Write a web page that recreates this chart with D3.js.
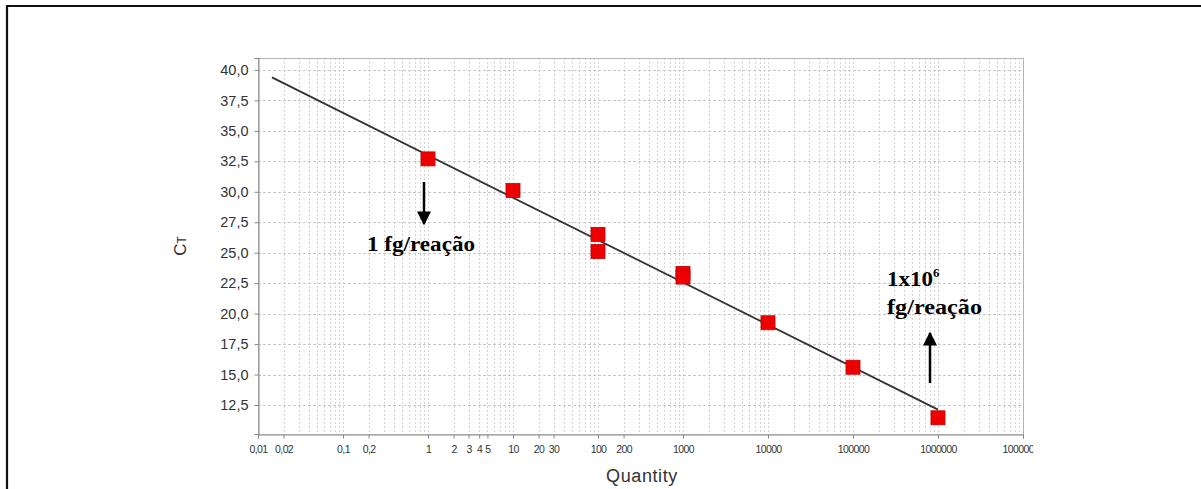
<!DOCTYPE html>
<html>
<head>
<meta charset="utf-8">
<script src="https://cdn.jsdelivr.net/npm/d3@7"></script>
<style>
  body { margin: 0; background: #fff; }
  svg { display: block; }
</style>
</head>
<body>
<script>
// data
var quantity = [1, 10, 100, 100, 1000, 1000, 10000, 100000, 1000000];
var ct = [32.7, 30.1, 26.5, 25.1, 23.3, 23.0, 19.25, 15.6, 11.45];

// standard curve fit (ct = intercept + slope*log10(q)) and the range it is drawn over
var fitSlope = -3.48;
var fitIntercept = 33.0;
var fitRange = [0.0146, 1000000];

var xTicks = [0.01, 0.02, 0.1, 0.2, 1, 2, 3, 4, 5, 10, 20, 30, 100, 200, 1000, 10000, 100000, 1000000, 10000000];
var yTicks = [12.5, 15, 17.5, 20, 22.5, 25, 27.5, 30, 32.5, 35, 37.5, 40];

var W = 1201, H = 489;
// plot box edges (don't use "top" - it's window.top)
var pLeft = 258, pRight = 1023, pTop = 58, pBottom = 434;

var svg = d3.select("body").append("svg")
    .attr("width", W)
    .attr("height", H);

// outer frame (right and bottom run off the picture)
svg.append("path")
    .attr("d", "M7,500 L7,6 L1210,6")
    .attr("fill", "none")
    .attr("stroke", "#111")
    .attr("stroke-width", 2.2);

var x = d3.scaleLog().domain([0.01, 10000000]).range([pLeft, pRight]);
var y = d3.scaleLinear().domain([10.12, 40.98]).range([pBottom, pTop]);

// minor grid values, 1..9 per decade
var gridX = [];
for (var e = -2; e < 7; e++) {
    for (var m = 1; m < 10; m++) gridX.push(m * Math.pow(10, e));
}

svg.append("g").selectAll("line")
    .data(gridX.filter(function(d) { return d > 0.01; }))
    .enter().append("line")
    .attr("x1", function(d) { return Math.round(x(d)) + 0.5; })
    .attr("x2", function(d) { return Math.round(x(d)) + 0.5; })
    .attr("y1", pTop)
    .attr("y2", pBottom)
    .attr("stroke", "#d4d4d4")
    .attr("stroke-dasharray", "2,2");

svg.append("g").selectAll("line")
    .data(yTicks)
    .enter().append("line")
    .attr("x1", pLeft)
    .attr("x2", pRight)
    .attr("y1", function(d) { return Math.round(y(d)) + 0.5; })
    .attr("y2", function(d) { return Math.round(y(d)) + 0.5; })
    .attr("stroke", "#c8c8c8")
    .attr("stroke-dasharray", "3,2");

// plot box
svg.append("rect")
    .attr("x", pLeft + 0.5)
    .attr("y", pTop + 0.5)
    .attr("width", pRight - pLeft)
    .attr("height", pBottom - pTop)
    .attr("fill", "none")
    .attr("stroke", "#b5b5b5");

// clip for the last x label, which is cut in the original
svg.append("clipPath").attr("id", "cut")
    .append("rect").attr("x", 0).attr("y", 0).attr("width", 1033).attr("height", H);

var xAxis = svg.append("g")
    .attr("transform", "translate(0," + (pBottom + 0.5) + ")")
    .attr("clip-path", "url(#cut)")
    .call(d3.axisBottom(x)
        .tickValues(xTicks)
        .tickSize(4)
        .tickFormat(function(d) { return String(d).replace(".", ","); }));
xAxis.select(".domain").attr("stroke", "#888");
xAxis.selectAll(".tick line").attr("stroke", "#888");
xAxis.selectAll(".tick text")
    .attr("fill", "#333")
    .attr("dy", "1.1em")
    .style("font-family", "Arial, 'Liberation Sans', sans-serif")
    .style("font-size", "10.5px")
    .style("letter-spacing", "-0.6px");

var yAxis = svg.append("g")
    .attr("transform", "translate(" + (pLeft + 0.5) + ",0)")
    .call(d3.axisLeft(y)
        .tickValues(yTicks)
        .tickSize(4)
        .tickPadding(6)
        .tickFormat(function(d) { return d3.format(".1f")(d).replace(".", ","); }));
yAxis.select(".domain").attr("stroke", "#888");
yAxis.selectAll(".tick line").attr("stroke", "#888");
yAxis.selectAll(".tick text")
    .attr("fill", "#333")
    .style("font-family", "Arial, 'Liberation Sans', sans-serif")
    .style("font-size", "14.5px");

// axis titles
svg.append("text")
    .attr("x", 642)
    .attr("y", 482)
    .attr("text-anchor", "middle")
    .attr("fill", "#333")
    .style("font-family", "Arial, 'Liberation Sans', sans-serif")
    .style("font-size", "18px")
    .style("letter-spacing", "0.6px")
    .text("Quantity");

var yt = svg.append("text")
    .attr("transform", "translate(186,246) rotate(-90)")
    .attr("text-anchor", "middle")
    .attr("fill", "#333")
    .style("font-family", "Arial, 'Liberation Sans', sans-serif")
    .style("font-size", "17px");
yt.append("tspan").text("C");
yt.append("tspan").style("font-size", "12px").text("T");

// fitted line
var line = d3.line()
    .x(function(d) { return x(d); })
    .y(function(d) { return y(fitIntercept + fitSlope * Math.log10(d)); });

svg.append("path")
    .attr("d", line(fitRange))
    .attr("fill", "none")
    .attr("stroke", "#333")
    .attr("stroke-width", 1.8);

// points
var pts = quantity.map(function(q, i) { return { q: q, c: ct[i] }; });
svg.append("g").selectAll("rect")
    .data(pts)
    .enter().append("rect")
    .attr("x", function(d) { return x(d.q) - 7; })
    .attr("y", function(d) { return y(d.c) - 7; })
    .attr("width", 14)
    .attr("height", 14)
    .attr("fill", "#ee0000")
    .attr("stroke", "#c40000")
    .attr("stroke-width", 0.8);

// annotations
svg.append("defs").append("marker")
    .attr("id", "head")
    .attr("viewBox", "0 0 10 10")
    .attr("refX", 9).attr("refY", 5)
    .attr("markerWidth", 5.6).attr("markerHeight", 5.6)
    .attr("markerUnits", "strokeWidth")
    .attr("orient", "auto")
    .append("path").attr("d", "M0,0 L10,5 L0,10 z").attr("fill", "#000");

svg.append("line")
    .attr("x1", 424).attr("y1", 182)
    .attr("x2", 424).attr("y2", 224)
    .attr("stroke", "#000").attr("stroke-width", 2.5)
    .attr("marker-end", "url(#head)");

svg.append("line")
    .attr("x1", 930).attr("y1", 383)
    .attr("x2", 930).attr("y2", 333)
    .attr("stroke", "#000").attr("stroke-width", 2.5)
    .attr("marker-end", "url(#head)");

var serif = "'Liberation Serif', 'Times New Roman', serif";

svg.append("text")
    .attr("x", 367).attr("y", 251)
    .attr("textLength", 108)
    .attr("lengthAdjust", "spacingAndGlyphs")
    .style("font-family", serif)
    .style("font-weight", "bold")
    .style("font-size", "22px")
    .text("1 fg/reação");

var t2 = svg.append("text")
    .attr("x", 887).attr("y", 286)
    .style("font-family", serif)
    .style("font-weight", "bold")
    .style("font-size", "22px");
t2.append("tspan").attr("textLength", 46).attr("lengthAdjust", "spacingAndGlyphs").text("1x10");
t2.append("tspan").attr("dy", -9).style("font-size", "13px").text("6");

svg.append("text")
    .attr("x", 887).attr("y", 314)
    .attr("textLength", 95)
    .attr("lengthAdjust", "spacingAndGlyphs")
    .style("font-family", serif)
    .style("font-weight", "bold")
    .style("font-size", "22px")
    .text("fg/reação");
</script>
</body>
</html>
